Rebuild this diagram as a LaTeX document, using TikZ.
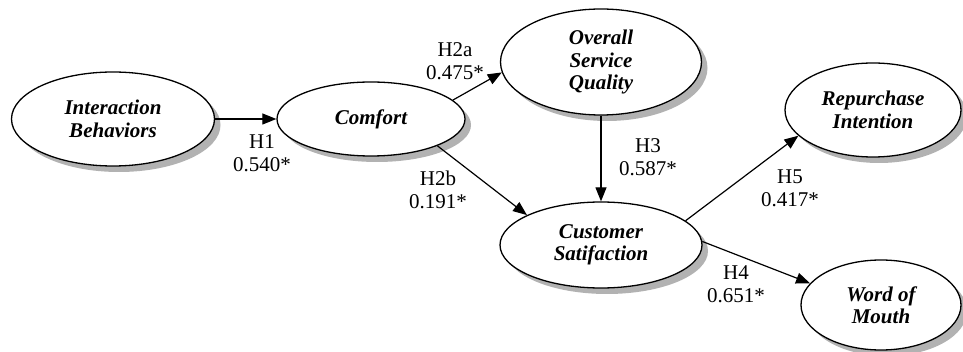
\documentclass[tikz,border=0pt]{standalone}
\usepackage{fontspec}
\setmainfont{Liberation Serif}
\usetikzlibrary{arrows.meta,shapes.geometric}
\begin{document}
\begin{tikzpicture}[x=1pt,y=-1pt,
  latent/.style={ellipse, draw, line width=1.3pt, fill=white, inner sep=0pt, align=center,
    font=\fontsize{21}{22.5}\selectfont\bfseries\itshape},
  shadowfill/.style={fill=black!30, draw=none},
  pathx/.style={-{Triangle[length=14pt,width=11pt]}, line width=1.2pt},
  lab/.style={align=center, font=\fontsize{21}{23}\selectfont, inner sep=0pt}]
\useasboundingbox (0,0) rectangle (963,352);
% shadows
\path[shadowfill] (119,125) ellipse [x radius=101.5, y radius=47];
\path[shadowfill] (377,125) ellipse [x radius=94, y radius=37];
\path[shadowfill] (607,68) ellipse [x radius=100.5, y radius=53];
\path[shadowfill] (607,251) ellipse [x radius=101, y radius=43];
\path[shadowfill] (879,116) ellipse [x radius=88, y radius=47];
\path[shadowfill] (887,311) ellipse [x radius=80, y radius=45];

\node[latent, minimum width=203pt, minimum height=94pt] (ib) at (113,119) {Interaction\\Behaviors};
\node[latent, minimum width=188pt, minimum height=74pt] (cf) at (371,119) {Comfort};
\node[latent, minimum width=201pt, minimum height=106pt] (osq) at (601,62) {Overall\\Service\\Quality};
\node[latent, minimum width=202pt, minimum height=86pt] (cs) at (601,245) {Customer\\Satifaction};
\node[latent, minimum width=176pt, minimum height=94pt] (ri) at (873,110) {Repurchase\\Intention};
\node[latent, minimum width=160pt, minimum height=90pt] (wm) at (881,305) {Word of\\Mouth};

\draw[pathx] (ib) -- (cf);
\draw[pathx] (cf.13) -- (osq.186);
\draw[pathx] (cf.-22) -- (cs.158);
\draw[pathx] (osq) -- (cs);
\draw[pathx] (cs.16) -- (ri.199);
\draw[pathx] (cs.2) -- (wm.163);

\node[lab] (l1) at (262,153) {H1\\0.540*};
\node[lab] (l2a) at (455,61) {H2a\\0.475*};
\node[lab] (l2b) at (438,190) {H2b\\0.191*};
\node[lab] (l3) at (648,157) {H3\\0.587*};
\node[lab] (l5) at (790,188) {H5\\0.417*};
\node[lab] (l4) at (736,284) {H4\\0.651*};
\end{tikzpicture}
\end{document}
